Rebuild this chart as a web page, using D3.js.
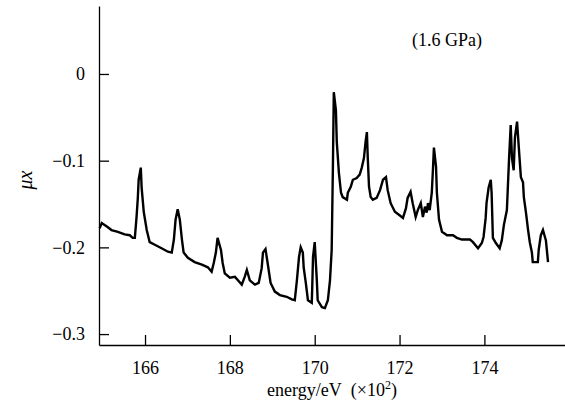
<!DOCTYPE html>
<html>
<head>
<meta charset="utf-8">
<script src="https://cdn.jsdelivr.net/npm/d3@7"></script>
<style>
  html, body { margin: 0; padding: 0; background: #fff; }
  svg { display: block; }
  svg text { font-family: "Liberation Serif", "DejaVu Serif", "Times New Roman", serif !important; fill: #000; }
</style>
</head>
<body>
<svg id="chart" width="565" height="410"></svg>
<script>
// energy in units of 100 eV
const energy = [
  164.93,164.98,165.10,165.21,165.36,165.52,165.64,165.71,165.76,165.80,
  165.83,165.85,165.90,165.92,165.97,166.04,166.11,166.23,166.39,166.54,
  166.63,166.68,166.72,166.77,166.82,166.87,166.91,167.01,167.17,167.34,
  167.48,167.57,167.62,167.67,167.71,167.79,167.83,167.88,168.00,168.12,
  168.19,168.28,168.35,168.40,168.47,168.59,168.68,168.75,168.78,168.84,
  168.89,168.96,169.06,169.18,169.34,169.46,169.53,169.58,169.63,169.67,
  169.72,169.74,169.79,169.84,169.93,169.94,169.96,170.00,170.05,170.07,
  170.17,170.24,170.31,170.36,170.40,170.43,170.45,170.50,170.52,170.57,
  170.62,170.66,170.76,170.78,170.85,170.90,170.99,171.06,171.11,171.16,
  171.20,171.23,171.25,171.28,171.32,171.37,171.46,171.54,171.61,171.68,
  171.72,171.79,171.89,172.00,172.08,172.15,172.19,172.26,172.31,172.38,
  172.43,172.50,172.55,172.60,172.64,172.67,172.71,172.76,172.79,172.81,
  172.86,172.88,172.93,173.00,173.12,173.26,173.35,173.47,173.66,173.73,
  173.85,173.94,173.98,174.03,174.05,174.10,174.15,174.17,174.20,174.27,
  174.36,174.41,174.46,174.53,174.55,174.58,174.62,174.65,174.69,174.72,
  174.77,174.81,174.86,174.91,174.93,174.98,175.03,175.07,175.12,175.14,
  175.26,175.28,175.33,175.38,175.45,175.50
];
const mux = [
  -0.178,-0.172,-0.176,-0.180,-0.182,-0.185,-0.186,-0.189,-0.189,-0.165,
  -0.143,-0.122,-0.108,-0.131,-0.159,-0.180,-0.194,-0.197,-0.201,-0.205,
  -0.206,-0.191,-0.168,-0.156,-0.168,-0.191,-0.206,-0.212,-0.217,-0.220,
  -0.223,-0.228,-0.218,-0.206,-0.189,-0.203,-0.218,-0.230,-0.235,-0.234,
  -0.238,-0.243,-0.234,-0.226,-0.238,-0.243,-0.241,-0.224,-0.206,-0.202,
  -0.218,-0.241,-0.251,-0.255,-0.257,-0.260,-0.261,-0.238,-0.211,-0.200,
  -0.206,-0.223,-0.241,-0.261,-0.264,-0.249,-0.211,-0.194,-0.238,-0.261,
  -0.269,-0.270,-0.261,-0.238,-0.203,-0.103,-0.021,-0.042,-0.078,-0.114,
  -0.137,-0.142,-0.145,-0.137,-0.130,-0.122,-0.120,-0.116,-0.108,-0.097,
  -0.078,-0.067,-0.096,-0.130,-0.142,-0.145,-0.143,-0.134,-0.122,-0.119,
  -0.134,-0.149,-0.159,-0.163,-0.166,-0.155,-0.143,-0.136,-0.149,-0.165,
  -0.157,-0.149,-0.165,-0.153,-0.160,-0.149,-0.157,-0.137,-0.107,-0.085,
  -0.107,-0.137,-0.168,-0.182,-0.186,-0.186,-0.189,-0.191,-0.191,-0.194,
  -0.201,-0.195,-0.188,-0.166,-0.149,-0.131,-0.122,-0.137,-0.189,-0.195,
  -0.201,-0.192,-0.174,-0.157,-0.134,-0.099,-0.059,-0.097,-0.111,-0.073,
  -0.055,-0.084,-0.119,-0.125,-0.142,-0.160,-0.180,-0.194,-0.206,-0.217,
  -0.217,-0.203,-0.186,-0.180,-0.192,-0.217
];
const xTicks = [166, 168, 170, 172, 174];
const yTicks = [0, -0.1, -0.2, -0.3];
const xDomain = [164.915, 175.9];
const yDomain = [-0.3126, 0.0784];
const annotation = "(1.6 GPa)";
const yLabel = "μx";

const FONT = "'Liberation Serif', 'DejaVu Serif', serif";
const svg = d3.select("#chart");
const mLeft = 99, mRight = 565, mTop = 6, mBottom = 345;

const x = d3.scaleLinear().domain(xDomain).range([mLeft, mRight]);
const y = d3.scaleLinear().domain(yDomain).range([mBottom, mTop]);

const fmt = d3.format(".1f");

// X axis
const gx = svg.append("g")
  .attr("transform", `translate(0,${mBottom})`)
  .call(d3.axisBottom(x).tickValues(xTicks).tickSizeInner(-10).tickSizeOuter(0)
    .tickPadding(16).tickFormat(d3.format("d")));
gx.attr("font-family", FONT).attr("font-size", 18);
gx.selectAll("line, path").attr("stroke", "#000").attr("stroke-width", 1.3);

// Y axis
const gy = svg.append("g")
  .attr("transform", `translate(${mLeft},0)`)
  .call(d3.axisLeft(y).tickValues(yTicks).tickSizeInner(-10).tickSizeOuter(0)
    .tickPadding(14).tickFormat(d => d === 0 ? "0" : fmt(d)));
gy.attr("font-family", FONT).attr("font-size", 18);
gy.selectAll("line, path").attr("stroke", "#000").attr("stroke-width", 1.3);

// Data line
const pts = energy.map((e, i) => [e, mux[i]]);
svg.append("path")
  .datum(pts)
  .attr("fill", "none")
  .attr("stroke", "#000")
  .attr("stroke-width", 2.4)
  .attr("stroke-linejoin", "miter")
  .attr("d", d3.line().x(d => x(d[0])).y(d => y(d[1])));

// Annotation
svg.append("text")
  .attr("x", 447).attr("y", 46)
  .attr("text-anchor", "middle")
  .attr("font-family", FONT)
  .attr("font-size", 18)
  .text(annotation);

// Y label
svg.append("text")
  .attr("transform", "translate(32,180) rotate(-90)")
  .attr("text-anchor", "middle")
  .attr("font-family", FONT)
  .attr("font-size", 20)
  .attr("font-style", "italic")
  .text(yLabel);

// X label
const xl = svg.append("text")
  .attr("x", 332).attr("y", 396)
  .attr("text-anchor", "middle")
  .attr("font-family", FONT)
  .attr("font-size", 18);
xl.append("tspan").text("energy/eV\u00a0\u00a0(×10");
xl.append("tspan").attr("dy", -7).attr("font-size", 12).text("2");
xl.append("tspan").attr("dy", 7).text(")");
</script>
</body>
</html>
